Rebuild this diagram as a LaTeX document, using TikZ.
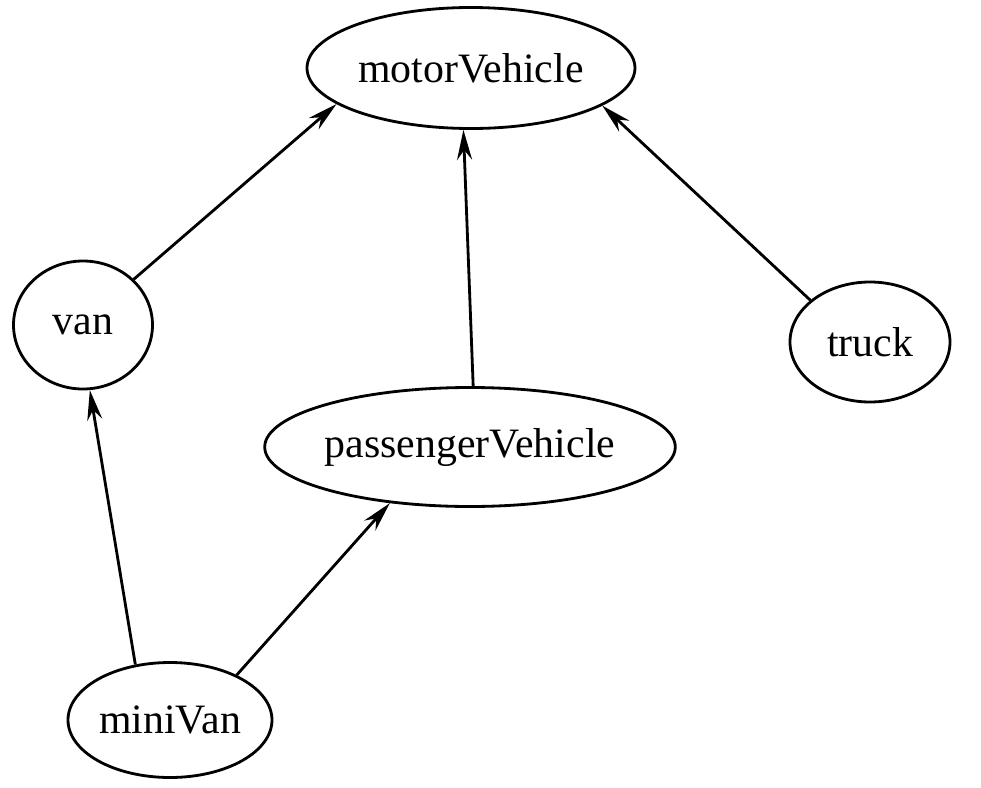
\documentclass[tikz,border=0pt]{standalone}
\usepackage{fontspec}
\setmainfont{Liberation Serif}
\usetikzlibrary{shapes.geometric,arrows.meta}
\begin{document}
\begin{tikzpicture}[>={Stealth[length=3mm,width=1.5mm]}, line width=0.8pt,
        class/.style={ellipse, draw, inner sep=0pt, font=\fontsize{11.9}{14}\selectfont}]
        \useasboundingbox (0,0) rectangle (9.81,7.87);
        \node (motor) [class, minimum width=3.28cm, minimum height=1.21cm] at (4.71,7.19) {motorVehicle};
        \node (van) [class, minimum width=1.39cm, minimum height=1.28cm] at (0.83,4.62) {van};
        \node (truck) [class, minimum width=1.60cm, minimum height=1.20cm] at (8.70,4.45) {truck};
        \node (pass) [class, minimum width=3.95cm, minimum height=1.19cm] at (4.70,3.40) {passengerVehicle};
        \node (mini) [class, minimum width=2.04cm, minimum height=1.15cm] at (1.70,0.67) {miniVan};

        \path [->] (van.42) edge (motor.195)
                   (pass.87) edge (motor.263)
                   (truck.145) edge (motor.344)
                   (mini.122) edge (van.276)
                   (mini.34) edge (pass.215);
    \end{tikzpicture}
\end{document}
